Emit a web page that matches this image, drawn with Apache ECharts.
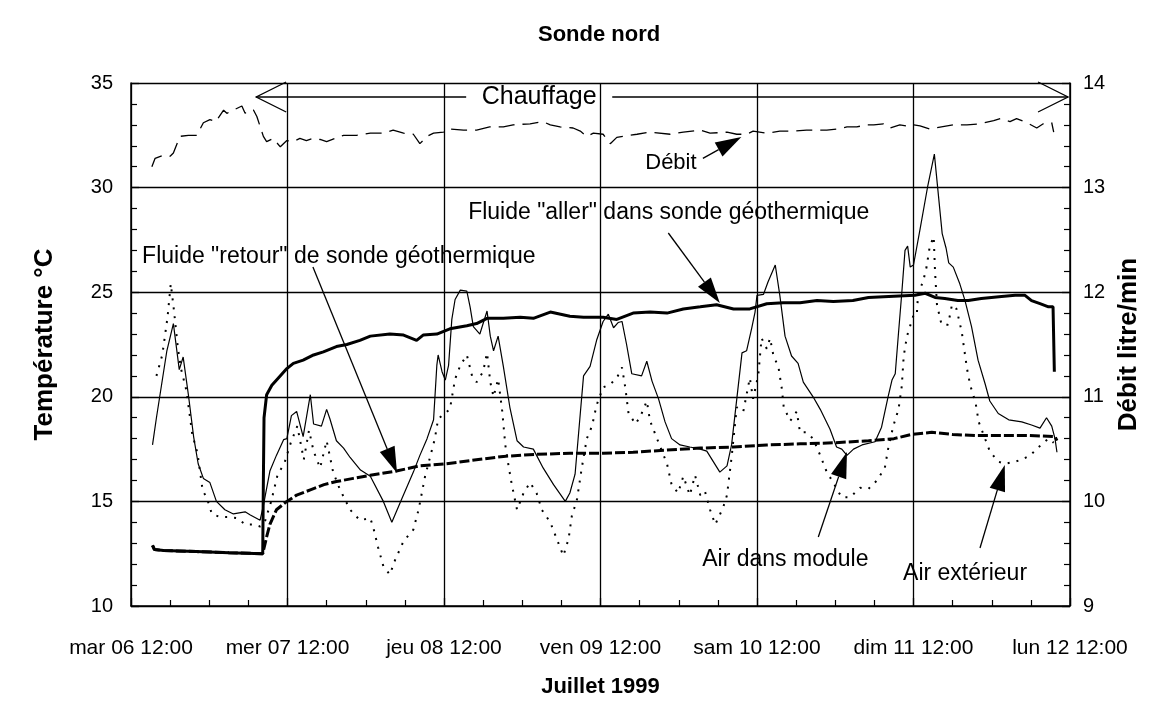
<!DOCTYPE html>
<html>
<head>
<meta charset="utf-8">
<title>Sonde nord</title>
<script src="https://cdn.jsdelivr.net/npm/echarts@6/dist/echarts.min.js"></script>
<style>
  html, body { margin: 0; padding: 0; background: #fff; }
  #chart { width: 1152px; height: 704px; }
</style>
</head>
<body>
<div id="chart"></div>
<script>
// time in hours since mar 06 juillet 1999 12:00
const xTickLabels = ['mar 06 12:00', 'mer 07 12:00', 'jeu 08 12:00', 'ven 09 12:00',
  'sam 10 12:00', 'dim 11 12:00', 'lun 12 12:00']

// Air dans module (°C)
const moduleTime = [3.3, 3.9, 4.7, 5.5, 6.5, 7.4, 8.0, 8.8, 9.6, 10.3, 11.1, 12.1, 13.1, 14.4, 15.7, 17.5, 18.3, 19.8,
  20.3, 21.3, 22.3, 23.4, 23.9, 24.6, 25.4, 26.4, 27.5, 28.0, 29.2, 30.0, 30.5, 31.5, 32.6, 33.6, 35.2, 36.7,
  38.7, 40.0, 41.5, 43.3, 44.3, 45.4, 46.4, 46.9, 47.1, 47.7, 48.2, 48.7, 49.2, 49.7, 50.5, 51.5, 52.0, 52.5,
  53.5, 54.6, 55.1, 55.6, 56.3, 57.1, 58.1, 59.2, 60.2, 61.7, 63.2, 64.8, 66.6, 67.3, 68.1, 68.9, 69.4, 70.4,
  71.4, 72.4, 73.2, 74.0, 74.7, 75.3, 76.0, 76.8, 78.3, 79.1, 79.9, 80.9, 81.9, 82.9, 84.2, 85.7, 87.3, 88.3,
  89.3, 90.3, 91.4, 92.1, 92.9, 93.7, 94.4, 95.2, 95.7, 96.0, 97.0, 97.7, 98.8, 99.5, 100.3, 101.3, 102.3,
  103.1, 104.6, 105.7, 107.2, 108.2, 109.0, 109.8, 110.8, 112.1, 114.1, 115.1, 116.1, 116.7, 117.2, 117.7,
  118.2, 118.7, 119.1, 119.5, 120.0, 121.0, 122.2, 123.2, 124.4, 125.0, 125.4, 126.1, 127.1, 127.9, 128.9,
  129.9, 131.0, 131.7, 133.0, 134.6, 136.6, 138.1, 139.4, 140.4, 141.2, 141.7, 142.0]
const moduleTemp = [17.7, 19.0, 20.6, 22.2, 23.5, 21.3, 21.9, 20.1, 18.1, 16.8, 16.1, 15.9, 15.0, 14.6, 14.4, 14.5, 14.35, 14.1,
  14.8, 16.45, 17.2, 17.95, 18.0, 19.1, 19.3, 18.1, 20.1, 18.7, 18.6, 19.4, 18.95, 17.9, 17.55, 17.1, 16.5, 16.2,
  15.0, 14.0, 15.1, 16.4, 17.2, 18.0, 18.9, 21.5, 22.0, 21.2, 20.8, 21.5, 23.7, 24.65, 25.1, 25.05, 24.3, 23.35,
  23.0, 24.1, 22.9, 22.2, 22.9, 21.45, 19.5, 17.9, 17.6, 17.5, 16.6, 15.8, 15.0, 15.4, 16.3, 19.2, 21.0, 21.45,
  22.7, 23.6, 23.95, 23.3, 23.55, 23.6, 22.5, 21.1, 21.0, 21.7, 20.75, 19.9, 18.8, 18.0, 17.7, 17.6, 17.5, 17.4,
  16.9, 16.4, 16.7, 17.7, 19.9, 22.1, 22.2, 23.3, 24.05, 24.85, 24.9, 25.5, 26.3, 24.85, 22.9, 21.95, 21.6,
  20.7, 20.0, 19.4, 18.45, 17.6, 17.5, 17.2, 17.5, 17.7, 17.85, 18.55, 20.0, 20.8, 21.1, 23.05,
  24.95, 27.0, 27.2, 26.2, 26.3, 28.0, 30.1, 31.6, 27.8, 27.1, 26.4, 26.2, 25.4, 24.6, 23.35,
  21.75, 20.6, 19.8, 19.2, 18.9, 18.8, 18.65, 18.5, 19.0, 18.6, 18.0, 17.35]

// Air extérieur (°C)
const outsideTime = [3.9, 4.8, 5.6, 6.1, 6.6, 7.2, 7.7, 8.5, 9.4, 10.2, 11.0, 11.6, 12.4, 13.7, 15.0, 16.3, 17.5, 18.8, 19.8,
  20.5, 21.5, 22.5, 23.5, 24.5, 25.5, 26.5, 27.3, 28.0, 29.0, 30.0, 31.0, 32.0, 33.6, 35.1, 36.7,
  37.2, 37.9, 38.7, 39.7, 40.5, 41.8, 43.3, 44.1, 45.1, 46.6, 47.1, 48.9, 49.7, 50.5, 51.5, 52.3, 53.0,
  54.0, 54.6, 55.1, 55.6, 56.3, 56.9, 57.4, 57.9, 58.4, 59.2, 60.2, 61.2, 62.2, 63.0, 64.3, 65.3, 66.3,
  67.1, 67.6, 68.4, 69.1, 69.9, 70.7, 71.4, 72.4, 73.5, 74.5, 75.3, 75.8, 76.3, 77.4, 78.3, 79.1, 79.6,
  80.6, 82.2, 82.9, 83.9, 84.7, 85.7, 86.5, 87.3, 88.0, 88.8, 89.6, 90.8, 91.4, 92.1, 92.9, 93.9, 94.9,
  95.4, 96.2, 96.7, 97.5, 98.0, 98.5, 99.3, 99.8, 100.1, 101.1, 102.1, 102.6, 103.6, 104.6, 105.7, 106.7,
  107.7, 108.5, 109.0, 110.3, 111.8, 113.1, 114.4, 115.6, 116.1, 116.9, 117.7, 118.2, 118.5, 119.0, 120.0,
  120.5, 120.7, 121.5, 122.0, 122.5, 123.1, 123.3, 123.6, 124.3, 125.3, 125.9, 126.6, 127.4, 128.2, 128.7,
  129.5, 130.0, 131.7, 133.0, 134.0, 135.6, 136.6, 137.9, 139.2, 140.7, 141.5]
const outsideTemp = [21.0, 22.0, 23.8, 25.4, 24.1, 22.3, 21.3, 20.3, 18.2, 17.3, 15.5, 15.2, 14.4, 14.25, 14.25, 14.2, 13.9, 13.9, 13.8,
  14.0, 15.0, 16.3, 16.8, 17.8, 18.6, 17.0, 18.4, 17.4, 16.6, 17.9, 16.4, 15.6, 14.6, 14.1, 14.2,
  13.7, 12.8, 11.9, 11.5, 12.2, 13.1, 13.65, 14.6, 16.2, 18.0, 18.95, 19.4, 20.85, 21.5, 22.0, 21.0, 20.7,
  21.2, 22.1, 20.7, 20.0, 20.85, 19.4, 17.7, 16.7, 15.8, 14.6, 15.4, 15.9, 15.4, 14.6, 14.0, 13.2, 12.4,
  13.2, 14.3, 15.1, 16.55, 18.0, 18.6, 19.6, 20.45, 20.6, 20.9, 21.4, 20.45, 19.2, 18.7, 19.2, 19.8, 18.85,
  18.05, 16.8, 15.8, 15.4, 16.2, 15.3, 16.25, 15.3, 15.5, 14.6, 13.9, 14.7, 15.3, 17.1, 19.5, 19.3, 20.9,
  19.9, 21.05, 22.8, 22.3, 22.8, 22.0, 21.4, 20.4, 19.5, 18.85, 19.3, 18.3, 18.3, 18.0, 17.2, 16.4,
  15.9, 15.45, 15.2, 15.2, 15.65, 15.6, 16.0, 16.6, 17.5, 18.6, 19.4, 20.5, 21.95, 22.9, 23.9,
  23.9, 24.9, 25.55, 26.2, 27.2, 27.65, 26.0, 24.4, 23.45, 23.45, 24.4, 24.2, 23.1, 21.35, 20.55,
  19.75, 18.8, 17.4, 16.9, 16.8, 16.9, 17.0, 17.2, 17.6, 18.0, 17.8]

// Fluide "aller" dans sonde géothermique (°C)
const allerTime = [3.3, 3.6, 5.0, 10.0, 15.0, 20.2, 20.3, 20.4, 20.8, 21.6, 22.6, 23.9, 24.9, 26.4, 28.0, 29.5, 31.5, 33.1,
  35.1, 36.7, 39.7, 41.8, 43.8, 44.8, 46.9, 48.9, 51.5, 53.0, 54.6, 57.1, 59.7, 61.7, 64.3, 67.3, 69.4, 72.4,
  74.5, 77.0, 79.6, 82.2, 84.7, 87.3, 89.8, 92.4, 94.9, 97.5, 100.0, 102.6, 105.2, 107.7, 110.7, 113.1, 116.2,
  120.2, 121.8, 123.3, 124.8, 126.8, 128.4, 130.4, 133.5, 135.6, 137.1, 138.1, 139.4, 140.7, 141.4, 141.6]
const allerTemp = [12.9, 12.7, 12.65, 12.6, 12.55, 12.5, 16.0, 19.0, 20.1, 20.55, 20.9, 21.35, 21.6, 21.75, 22.0, 22.15, 22.4, 22.5,
  22.7, 22.9, 23.0, 22.95, 22.7, 22.95, 23.0, 23.25, 23.4, 23.5, 23.75, 23.75, 23.8, 23.75, 24.05, 23.85, 23.8, 23.8,
  23.7, 24.0, 24.05, 24.0, 24.2, 24.3, 24.4, 24.2, 24.2, 24.45, 24.5, 24.5, 24.6, 24.55, 24.6, 24.75, 24.8,
  24.85, 24.95, 24.75, 24.7, 24.6, 24.6, 24.7, 24.8, 24.85, 24.85, 24.6, 24.45, 24.3, 24.3, 21.2]

// Fluide "retour" de sonde géothermique (°C)
const retourTime = [3.3, 3.6, 5.0, 10.0, 15.0, 20.2, 20.8, 21.3, 22.3, 23.9, 25.4, 27.5, 29.6, 31.5, 34.1, 36.7, 40.7,
  44.3, 48.4, 52.0, 57.1, 62.2, 67.3, 72.4, 77.0, 82.0, 87.3, 92.4, 97.5, 102.6, 107.7, 113.1, 117.0, 119.7,
  122.8, 126.0, 129.5, 133.5, 137.6, 141.7, 142.0]
const retourTemp = [12.9, 12.7, 12.65, 12.6, 12.55, 12.5, 13.3, 13.9, 14.6, 15.0, 15.3, 15.55, 15.8, 15.95, 16.1, 16.25, 16.45,
  16.7, 16.8, 16.95, 17.15, 17.25, 17.3, 17.3, 17.35, 17.45, 17.55, 17.6, 17.7, 17.75, 17.8, 17.9, 18.0, 18.2,
  18.3, 18.2, 18.15, 18.15, 18.15, 18.1, 17.9]

// Débit (litre/min)
const debitTime = [3.2, 3.7, 5.0, 6.0, 6.5, 7.5, 8.8, 10.1, 11.1, 12.1, 13.0, 14.2, 14.7, 17.0, 17.5, 18.0, 18.8, 19.3,
  20.3, 20.8, 21.8, 22.9, 23.9, 24.9, 25.9, 26.9, 27.9, 29.0, 30.0, 32.6, 34.6, 36.7, 38.7, 40.2, 41.8, 43.3,
  44.3, 45.4, 46.4, 47.9, 48.9, 51.0, 53.0, 55.0, 57.1, 58.6, 61.2, 63.2, 64.3, 65.8, 67.8, 68.9, 69.9, 70.9,
  72.4, 73.5, 74.5, 77.6, 79.6, 82.7, 84.7, 87.3, 88.8, 91.4, 92.9, 94.4, 95.4, 97.5, 99.5, 101.6, 103.6,
  106.7, 108.2, 109.8, 111.3, 112.8, 113.9, 115.4, 116.4, 117.9, 118.9, 120.0, 121.0, 122.5, 126.1, 128.2,
  130.2, 132.3, 133.3, 134.8, 135.8, 137.4, 138.9, 139.9, 141.2, 141.5]
const debitValue = [13.2, 13.28, 13.31, 13.3, 13.33, 13.49, 13.5, 13.5, 13.62, 13.65, 13.63, 13.74, 13.71, 13.78, 13.71, 13.74, 13.74, 13.68,
  13.49, 13.44, 13.47, 13.39, 13.45, 13.44, 13.47, 13.45, 13.47, 13.46, 13.44, 13.5, 13.5, 13.52, 13.52, 13.55, 13.52, 13.51,
  13.42, 13.49, 13.52, 13.53, 13.56, 13.55, 13.55, 13.58, 13.58, 13.6, 13.61, 13.63, 13.6, 13.58, 13.57, 13.54, 13.49, 13.52,
  13.51, 13.42, 13.48, 13.51, 13.53, 13.51, 13.53, 13.55, 13.52, 13.53, 13.51, 13.51, 13.54, 13.52, 13.54, 13.54, 13.55,
  13.55, 13.56, 13.58, 13.58, 13.6, 13.6, 13.61, 13.57, 13.6, 13.59, 13.6, 13.59, 13.56, 13.6, 13.6,
  13.61, 13.64, 13.66, 13.63, 13.66, 13.62, 13.57, 13.61, 13.62, 13.53]

const zip = (ts, vs) => ts.map((t, i) => [t, vs[i]])

const black = '#000'
const font = 'Liberation Sans, Arial, sans-serif'

const chart = echarts.init(document.getElementById('chart'))

chart.setOption({
  animation: false,
  backgroundColor: '#fff',
  textStyle: { fontFamily: font, color: black },
  title: {
    text: 'Sonde nord',
    left: 533,
    top: 19,
    textStyle: { fontFamily: font, fontSize: 22, fontWeight: 'bold', color: black }
  },
  grid: { left: 131, right: 82, top: 83, bottom: 98 },
  xAxis: {
    type: 'value',
    min: 0,
    max: 144,
    interval: 24,
    name: 'Juillet 1999',
    nameLocation: 'middle',
    nameGap: 70,
    nameTextStyle: { fontSize: 22, fontWeight: 'bold', color: black },
    axisLine: { lineStyle: { color: black, width: 1.5 } },
    axisTick: { inside: true, length: 8, lineStyle: { color: black, width: 1.3 } },
    minorTick: { show: true, splitNumber: 4, length: 6, lineStyle: { color: black, width: 1.2 } },
    splitLine: { show: true, lineStyle: { color: black, width: 1.3 } },
    axisLabel: {
      fontSize: 21,
      color: black,
      margin: 32,
      formatter: v => xTickLabels[Math.round(v / 24)]
    }
  },
  yAxis: [
    {
      type: 'value',
      min: 10,
      max: 35,
      interval: 5,
      position: 'left',
      name: 'Température °C',
      nameLocation: 'middle',
      nameGap: 73,
      nameRotate: 90,
      nameTextStyle: { fontSize: 26, fontWeight: 'bold', color: black },
      axisLine: { show: true, lineStyle: { color: black, width: 1.5 } },
      axisTick: { show: true, inside: true, length: 8, lineStyle: { color: black, width: 1.3 } },
      minorTick: { show: true, splitNumber: 5, length: 6, lineStyle: { color: black, width: 1.2 } },
      splitLine: { show: true, lineStyle: { color: black, width: 1.3 } },
      axisLabel: { fontSize: 20, color: black, margin: 18 }
    },
    {
      type: 'value',
      min: 9,
      max: 14,
      interval: 1,
      position: 'right',
      name: 'Débit litre/min',
      nameLocation: 'middle',
      nameGap: 42,
      nameRotate: 90,
      nameTextStyle: { fontSize: 26, fontWeight: 'bold', color: black },
      axisLine: { show: true, lineStyle: { color: black, width: 1.5 } },
      axisTick: { show: true, inside: true, length: 8, lineStyle: { color: black, width: 1.3 } },
      minorTick: { show: true, splitNumber: 5, length: 6, lineStyle: { color: black, width: 1.2 } },
      splitLine: { show: false },
      axisLabel: { fontSize: 20, color: black, margin: 13 }
    }
  ],
  series: [
    {
      name: 'Air extérieur',
      type: 'line',
      data: zip(outsideTime, outsideTemp),
      showSymbol: false,
      lineStyle: { color: black, width: 2, type: [2, 7] }
    },
    {
      name: 'Air dans module',
      type: 'line',
      data: zip(moduleTime, moduleTemp),
      showSymbol: false,
      lineStyle: { color: black, width: 1.2 }
    },
    {
      name: 'Fluide retour',
      type: 'line',
      data: zip(retourTime, retourTemp),
      showSymbol: false,
      lineStyle: { color: black, width: 3, type: [10, 3] }
    },
    {
      name: 'Fluide aller',
      type: 'line',
      data: zip(allerTime, allerTemp),
      showSymbol: false,
      lineStyle: { color: black, width: 3 }
    },
    {
      name: 'Débit',
      type: 'line',
      yAxisIndex: 1,
      data: zip(debitTime, debitValue),
      showSymbol: false,
      lineStyle: { color: black, width: 1.3, type: [16, 8] }
    }
  ]
})

// annotations, anchored in (hours, °C)
const px = p => chart.convertToPixel({ gridIndex: 0 }, p)

const label = (p, text, align, size) => {
  const [x, y] = px(p)
  return {
    type: 'text', x, y, z: 100,
    style: { text, fontFamily: font, fontSize: size || 23, fill: black, align: align || 'left', verticalAlign: 'middle' }
  }
}

const filledArrow = (from, to) => {
  const a = px(from), b = px(to)
  const dx = b[0] - a[0], dy = b[1] - a[1]
  const len = Math.hypot(dx, dy)
  const ux = dx / len, uy = dy / len
  const hl = 26, hw = 8
  const bx = b[0] - ux * hl, by = b[1] - uy * hl
  return [
    { type: 'line', z: 100, shape: { x1: a[0], y1: a[1], x2: bx, y2: by }, style: { stroke: black, lineWidth: 1.3 } },
    { type: 'polygon', z: 100, shape: { points: [b, [bx - uy * hw, by + ux * hw], [bx + uy * hw, by - ux * hw]] }, style: { fill: black } }
  ]
}

const openHead = (tip, dir) => {
  const [x, y] = px(tip)
  return {
    type: 'polyline', z: 100,
    shape: { points: [[x + dir * 30, y - 15], [x, y], [x + dir * 30, y + 15]] },
    style: { stroke: black, lineWidth: 1.3, fill: null }
  }
}

const hLine = (p1, p2) => {
  const a = px(p1), b = px(p2)
  return { type: 'line', z: 100, shape: { x1: a[0], y1: a[1], x2: b[0], y2: b[1] }, style: { stroke: black, lineWidth: 1.5 } }
}

const chauffageT = 34.33
chart.setOption({
  graphic: [
    hLine([19.2, chauffageT], [51.4, chauffageT]),
    hLine([73.8, chauffageT], [143.7, chauffageT]),
    openHead([19.2, chauffageT], 1),
    openHead([143.7, chauffageT], -1),
    label([62.6, chauffageT], 'Chauffage', 'center', 25),
    label([82.8, 31.2], 'Débit', 'center', 22),
    ...filledArrow([87.7, 31.4], [93.6, 32.42]),
    label([51.7, 28.79], 'Fluide "aller" dans sonde géothermique'),
    ...filledArrow([82.4, 27.83], [90.3, 24.48]),
    label([1.7, 26.68], 'Fluide "retour" de sonde géothermique'),
    ...filledArrow([27.9, 26.2], [40.8, 16.36]),
    label([87.6, 12.2], 'Air dans module'),
    ...filledArrow([105.4, 13.3], [109.8, 17.36]),
    label([118.4, 11.53], 'Air extérieur'),
    ...filledArrow([130.2, 12.77], [134.0, 16.74])
  ]
})
</script>
</body>
</html>
